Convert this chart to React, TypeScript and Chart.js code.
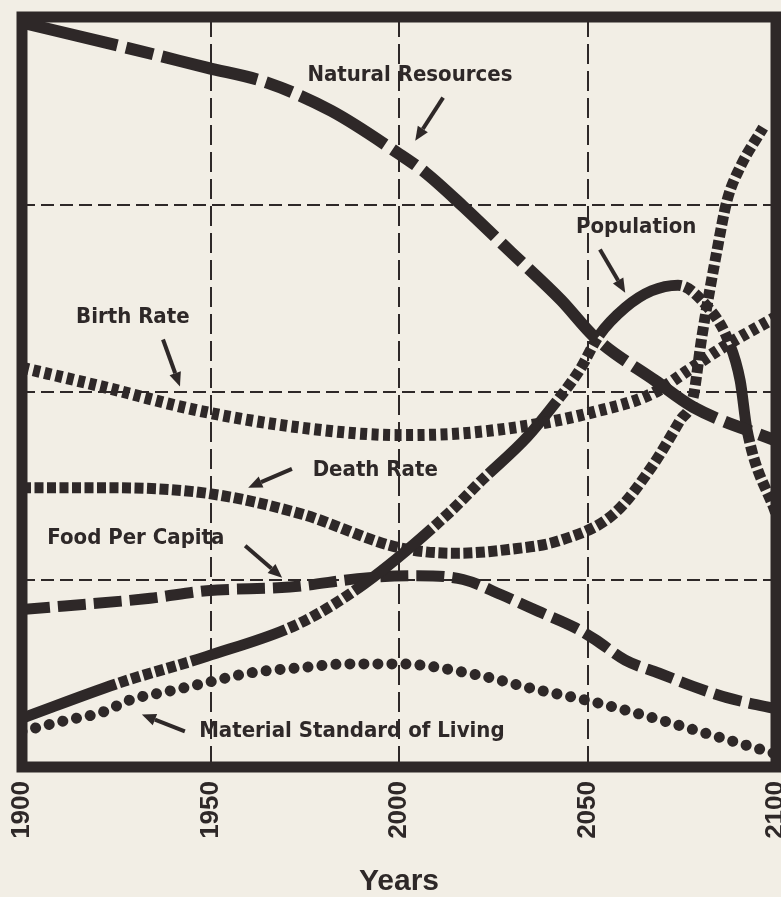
import React, { useEffect, useRef } from "react";
import { Chart, registerables } from "chart.js";

Chart.register(...registerables);

const INK = "#2e2828";
const PAPER = "#f2eee5";
const LABEL_FONT = "bold 22px 'DejaVu Sans Condensed', 'Liberation Sans', sans-serif";

const xTickYears = [1900, 1950, 2000, 2050, 2100];
const yGridValues = [0, 1, 2, 3, 4];

const resourceYears = [1900, 1927, 1949, 1965, 1982, 2000, 2007, 2017, 2030, 2043, 2052, 2068, 2078, 2100];
const resourceValues = [3.97, 3.84, 3.73, 3.65, 3.5, 3.27, 3.17, 2.99, 2.74, 2.49, 2.29, 2.06, 1.92, 1.74];

const populationYears = [1900, 1926, 1949, 1974, 1991, 2013, 2022, 2034, 2041, 2048, 2053, 2060, 2067, 2074, 2082, 2087, 2090.5, 2092.3, 2100];
const populationValues = [0.26, 0.45, 0.59, 0.77, 0.98, 1.35, 1.53, 1.76, 1.93, 2.12, 2.3, 2.45, 2.54, 2.57, 2.45, 2.29, 2.06, 1.8, 1.35];

const birthYears = [1900, 1921, 1947, 1974, 2000, 2017, 2037, 2051, 2067, 2077, 2086, 2100];
const birthValues = [2.13, 2.03, 1.9, 1.81, 1.77, 1.78, 1.83, 1.89, 1.99, 2.12, 2.24, 2.4];

const deathYears = [1900, 1921, 1949, 1974, 2000, 2015, 2029, 2043, 2057, 2067, 2074.6, 2078, 2080.3, 2084.4, 2087, 2090.5, 2096.6];
const deathValues = [1.49, 1.49, 1.46, 1.35, 1.17, 1.14, 1.16, 1.21, 1.35, 1.6, 1.85, 1.97, 2.29, 2.76, 3.02, 3.2, 3.41];

const foodYears = [1900, 1934, 1949, 1971, 1992, 2005, 2017, 2027, 2037, 2047, 2052, 2060, 2069, 2078, 2087, 2100];
const foodValues = [0.84, 0.9, 0.94, 0.96, 1.01, 1.02, 1.0, 0.92, 0.83, 0.74, 0.68, 0.57, 0.5, 0.43, 0.37, 0.31];

const materialYears = [1900, 1912, 1921, 1929, 1938, 1949, 1960, 1974, 1987, 2000, 2021, 2035, 2051, 2066, 2083, 2100];
const materialValues = [0.19, 0.25, 0.29, 0.36, 0.4, 0.45, 0.5, 0.53, 0.55, 0.55, 0.49, 0.42, 0.35, 0.27, 0.17, 0.07];

const noteTexts = ["Natural Resources", "Population", "Birth Rate", "Death Rate", "Food Per Capita", "Material Standard of Living"];
const noteYears = [2002.9, 2062.9, 1929.4, 1993.7, 1930.2, 1987.5];
const noteValues = [3.66, 2.85, 2.37, 1.55, 1.19, 0.16];

const arrowFromYears = [2011.7, 2053.3, 1937.4, 1971.6, 1959.2, 1943.2];
const arrowFromValues = [3.57, 2.76, 2.28, 1.59, 1.18, 0.19];
const arrowToYears = [2004.3, 2060, 1941.9, 1960, 1969, 1931.8];
const arrowToValues = [3.34, 2.53, 2.03, 1.49, 1.01, 0.28];

const hatch = [9, 3.5];
const populationDash = [100, 3.5, 9, 3.5, 9, 3.5, 9, 3.5, 9, 3.5, 9, 3.5, 9, 3.5];

function pts(xs: number[], ys: number[]) {
  return xs.map((x, i) => ({ x, y: ys[i] }));
}

function lineSet(label: string, xs: number[], ys: number[], width: number, dash: number[], cap: CanvasLineCap = "butt") {
  return {
    label,
    data: pts(xs, ys),
    borderColor: INK,
    backgroundColor: INK,
    borderWidth: width,
    borderDash: dash,
    borderCapStyle: cap,
    borderJoinStyle: "round" as CanvasLineJoin,
    pointRadius: 0,
    fill: false,
    cubicInterpolationMode: "monotone" as const,
    tension: 0.4,
  };
}

const decorPlugin = {
  id: "decor",
  beforeDraw(chart: any) {
    const { ctx, width, height } = chart;
    ctx.save();
    ctx.fillStyle = PAPER;
    ctx.fillRect(0, 0, width, height);
    ctx.restore();
  },
  afterDatasetsDraw(chart: any) {
    const { ctx, chartArea } = chart;
    const xs = chart.scales.x;
    const ys = chart.scales.y;
    ctx.save();
    ctx.strokeStyle = INK;
    ctx.fillStyle = INK;
    for (let i = 0; i < arrowFromYears.length; i++) {
      const x1 = xs.getPixelForValue(arrowFromYears[i]);
      const y1 = ys.getPixelForValue(arrowFromValues[i]);
      const x2 = xs.getPixelForValue(arrowToYears[i]);
      const y2 = ys.getPixelForValue(arrowToValues[i]);
      const ang = Math.atan2(y2 - y1, x2 - x1);
      const head = 14;
      const half = 6;
      const bx = x2 - head * Math.cos(ang);
      const by = y2 - head * Math.sin(ang);
      ctx.lineWidth = 4;
      ctx.setLineDash([]);
      ctx.beginPath();
      ctx.moveTo(x1, y1);
      ctx.lineTo(bx, by);
      ctx.stroke();
      ctx.beginPath();
      ctx.moveTo(x2, y2);
      ctx.lineTo(bx + half * Math.sin(ang), by - half * Math.cos(ang));
      ctx.lineTo(bx - half * Math.sin(ang), by + half * Math.cos(ang));
      ctx.closePath();
      ctx.fill();
    }
    ctx.font = LABEL_FONT;
    ctx.textAlign = "center";
    ctx.textBaseline = "alphabetic";
    for (let i = 0; i < noteTexts.length; i++) {
      ctx.fillText(noteTexts[i], xs.getPixelForValue(noteYears[i]), ys.getPixelForValue(noteValues[i]));
    }
    ctx.lineWidth = 11;
    ctx.strokeStyle = INK;
    ctx.strokeRect(chartArea.left, chartArea.top, chartArea.right - chartArea.left, chartArea.bottom - chartArea.top);
    ctx.restore();
  },
};

export default function App() {
  const ref = useRef<HTMLCanvasElement | null>(null);
  useEffect(() => {
    if (!ref.current) return;
    const chart = new Chart(ref.current, {
      type: "line",
      data: {
        datasets: [
          lineSet("Natural Resources", resourceYears, resourceValues, 12, [98, 9, 28, 9]),
          lineSet("Birth Rate", birthYears, birthValues, 12, [7, 4.5]),
          lineSet("Population", populationYears, populationValues, 11, populationDash),
          lineSet("Death Rate", deathYears, deathValues, 11, hatch),
          lineSet("Food Per Capita", foodYears, foodValues, 11, [28, 8]),
          lineSet("Material Standard of Living", materialYears, materialValues, 11, [0.01, 14], "round"),
        ] as any,
      },
      options: {
        animation: false,
        responsive: false,
        devicePixelRatio: 1,
        layout: { padding: { left: 22, right: 5, top: 17, bottom: 0 }, autoPadding: false },
        plugins: { legend: { display: false }, tooltip: { enabled: false }, title: { display: false } },
        events: [],
        scales: {
          x: {
            type: "linear",
            min: 1900,
            max: 2100,
            afterBuildTicks: (s: any) => {
              s.ticks = xTickYears.map((v) => ({ value: v }));
            },
            afterFit: (s: any) => {
              s.height = 130;
              s.paddingLeft = 0;
              s.paddingRight = 0;
            },
            ticks: {
              autoSkip: false,
              minRotation: 90,
              maxRotation: 90,
              padding: 14,
              color: INK,
              font: { family: "'Liberation Sans', Arial, sans-serif", size: 26, weight: "bold" },
              callback: (v: any) => String(v),
            },
            grid: { color: INK, lineWidth: 2, drawTicks: false },
            border: { display: false, dash: [20, 7] },
            title: {
              display: true,
              text: "Years",
              color: INK,
              padding: 0,
              font: { family: "'Liberation Sans', Arial, sans-serif", size: 30, weight: "bold", lineHeight: 1 },
            },
          },
          y: {
            type: "linear",
            min: 0,
            max: 4,
            afterBuildTicks: (s: any) => {
              s.ticks = yGridValues.map((v) => ({ value: v }));
            },
            afterFit: (s: any) => {
              s.width = 0;
              s.paddingTop = 0;
              s.paddingBottom = 0;
            },
            ticks: { display: false },
            grid: { color: INK, lineWidth: 2, drawTicks: false },
            border: { display: false, dash: [13, 6] },
          },
        },
      } as any,
      plugins: [decorPlugin],
    });
    return () => chart.destroy();
  }, []);
  return (
    <div style={{ position: "fixed", left: 0, top: 0, width: 781, height: 897, background: PAPER }}>
      <canvas ref={ref} width={781} height={897} style={{ display: "block", width: 781, height: 897 }} />
    </div>
  );
}
